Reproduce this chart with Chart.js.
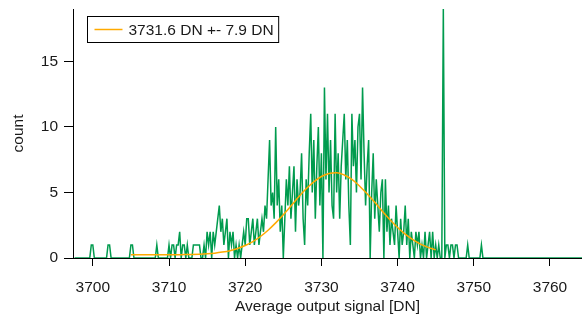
<!DOCTYPE html>
<html>
<head>
<meta charset="utf-8">
<script src="https://cdn.jsdelivr.net/npm/chart.js@4.4.1/dist/chart.umd.min.js"></script>
<style>
    html, body { margin: 0; padding: 0; background: #fff; }
    #wrap { width: 582px; height: 318px; position: relative; }
</style>
</head>
<body>
<div id="wrap"><canvas id="chart"></canvas></div>
<script>
// histogram of the average output signal, bins of 0.2 DN starting at 3697.6 DN
const binStart = 3697.6;
const binWidth = 0.2;
const binCounts = [
    0, 0, 0, 0, 0, 0, 0, 0, 0, 0,
    0, 1, 1, 0, 0, 0, 0, 0, 0, 0,
    0, 0, 1, 1, 0, 0, 0, 0, 0, 0,
    0, 0, 0, 0, 0, 0, 0, 1, 1, 0,
    0, 0, 0, 0, 0, 0, 0, 0, 0, 0,
    0, 0, 0, 0, 1, 0, 0, 0, 0, 0,
    0, 0, 1, 0, 1, 1, 0, 1, 1, 2,
    0, 1, 1, 0, 1, 0, 0, 0, 1, 1,
    1, 1, 1, 0, 0, 1, 0, 2, 1, 2,
    0, 2, 1, 2, 3, 4, 2, 3, 1, 2,
    3, 0, 2, 1, 2, 0, 1, 0, 1, 0,
    1, 2, 1, 3, 3, 1, 2, 3, 1, 2,
    3, 1, 2, 3, 2, 4, 3, 6, 9, 4,
    5, 3, 10, 4, 6, 2, 4, 0, 3, 6,
    4, 7, 3, 5, 7, 2, 6, 4, 5, 8,
    3, 1, 6, 4, 8, 11, 5, 9, 3, 7,
    10, 4, 8, 0, 13, 6, 11, 5, 9, 4,
    3, 11, 5, 8, 3, 7, 9, 11, 6, 9,
    4, 1, 11, 7, 9, 5, 10, 11, 6, 13,
    8, 4, 7, 9, 0, 5, 8, 3, 6, 4,
    2, 5, 6, 0, 6, 2, 4, 1, 3, 2,
    1, 4, 2, 0, 3, 1, 2, 4, 1, 3,
    0, 2, 1, 0, 2, 1, 2, 0, 1, 0,
    2, 0, 1, 2, 0, 2, 0, 1, 0, 1,
    0, 0, 19, 0, 1, 1, 0, 1, 1, 0,
    1, 1, 0, 0, 0, 0, 0, 0, 1, 0,
    0, 0, 0, 0, 0, 0, 0, 1, 0, 0,
    0, 0, 0, 0, 0, 0, 0, 0, 0, 0,
    0, 0, 0, 0, 0, 0, 0, 0, 0, 0,
    0, 0, 0, 0, 0, 0, 0, 0, 0, 0,
    0, 0, 0, 0, 0, 0, 0, 0, 0, 0,
    0, 0, 0, 0, 0, 0, 0, 0, 0, 0,
    0, 0, 0, 0, 0, 0, 0, 0, 0, 0,
    0, 0, 0, 0, 0
];

// gaussian fit, read every 1 DN from 3705 to 3745
const fitStart = 3705;
const fitStep = 1;
const fitCounts = [
    0.25, 0.25, 0.25, 0.25, 0.25, 0.25, 0.25, 0.26, 0.27, 0.29,
    0.32, 0.37, 0.45, 0.56, 0.73, 0.95, 1.25, 1.64, 2.12, 2.68,
    3.30, 3.97, 4.65, 5.28, 5.81, 6.22, 6.45, 6.50, 6.33, 6.00,
    5.50, 4.90, 4.25, 3.57, 2.92, 2.33, 1.82, 1.40, 1.06, 0.81,
    0.62
];
const fitLabel = '3731.6 DN +- 7.9 DN';

const xTicks = [3700, 3710, 3720, 3730, 3740, 3750, 3760];
const yTicks = [0, 5, 10, 15];

const fontFamily = '"Liberation Sans", Arial, sans-serif';
const fontSize = 15.5;
const textColor = '#1a1a1a';
const green = 'rgb(0, 155, 78)';
const orange = 'rgb(255, 170, 0)';

const histPoints = binCounts.map((c, i) => ({ x: +(binStart + i * binWidth).toFixed(1), y: c }));
const fitPoints = fitCounts.map((c, i) => ({ x: fitStart + i * fitStep, y: c }));

// boxed legend in the top-left corner of the plot
const boxLegend = {
    id: 'boxLegend',
    afterDraw(chart) {
        const ctx = chart.ctx;
        const area = chart.chartArea;
        const ds = chart.data.datasets[0];
        const x = area.left + 14.5;
        const y = area.top + 7.5;
        ctx.save();
        ctx.font = fontSize + 'px ' + fontFamily;
        const tw = ctx.measureText(ds.label).width;
        const w = 41 + tw + 5;
        const h = 26;
        ctx.fillStyle = '#fff';
        ctx.fillRect(x, y, w, h);
        ctx.strokeStyle = '#000';
        ctx.lineWidth = 1;
        ctx.strokeRect(x, y, w, h);
        ctx.strokeStyle = ds.borderColor;
        ctx.lineWidth = 1.5;
        ctx.beginPath();
        ctx.moveTo(x + 7, y + h / 2);
        ctx.lineTo(x + 35, y + h / 2);
        ctx.stroke();
        ctx.fillStyle = textColor;
        ctx.textBaseline = 'middle';
        ctx.fillText(ds.label, x + 41, y + h / 2 + 1);
        ctx.restore();
    }
};

new Chart(document.getElementById('chart'), {
    type: 'line',
    data: {
        datasets: [
            {
                label: fitLabel,
                data: fitPoints,
                borderColor: orange,
                borderWidth: 1.5,
                pointRadius: 0,
                cubicInterpolationMode: 'monotone',
                fill: false
            },
            {
                label: 'histogram',
                data: histPoints,
                borderColor: green,
                borderWidth: 1.5,
                pointRadius: 0,
                tension: 0,
                fill: false
            }
        ]
    },
    options: {
        responsive: true,
        maintainAspectRatio: false,
        animation: false,
        layout: { padding: { top: 9, right: 0, left: 0, bottom: 0 } },
        plugins: {
            legend: { display: false },
            tooltip: { enabled: false }
        },
        scales: {
            x: {
                type: 'linear',
                min: 3697.4,
                max: 3764.2,
                afterBuildTicks: (scale) => { scale.ticks = xTicks.map(v => ({ value: v })); },
                ticks: {
                    padding: 12,
                    maxRotation: 0,
                    autoSkip: false,
                    color: textColor,
                    font: { size: fontSize, family: fontFamily },
                    callback: (v) => String(v)
                },
                grid: { drawOnChartArea: false, drawTicks: true, tickLength: 8, tickColor: '#000' },
                border: { color: '#000', width: 1 },
                title: {
                    display: true,
                    text: 'Average output signal [DN]',
                    color: textColor,
                    font: { size: fontSize, family: fontFamily },
                    padding: { top: 0, bottom: 2 }
                },
                afterFit: (scale) => {
                    scale.height = 60;
                    scale.paddingLeft = 0;
                    scale.paddingRight = 0;
                }
            },
            y: {
                min: 0,
                max: 19,
                afterBuildTicks: (scale) => { scale.ticks = yTicks.map(v => ({ value: v })); },
                ticks: {
                    padding: 6,
                    color: textColor,
                    font: { size: fontSize, family: fontFamily },
                    callback: (v) => String(v)
                },
                grid: { drawOnChartArea: false, drawTicks: true, tickLength: 9, tickColor: '#000' },
                border: { color: '#000', width: 1 },
                title: {
                    display: true,
                    text: 'count',
                    color: textColor,
                    font: { size: fontSize, family: fontFamily },
                    padding: { top: 9, bottom: 0 }
                },
                afterFit: (scale) => {
                    scale.width = 73;
                    scale.paddingTop = 0;
                    scale.paddingBottom = 0;
                }
            }
        }
    },
    plugins: [boxLegend]
});
</script>
</body>
</html>
